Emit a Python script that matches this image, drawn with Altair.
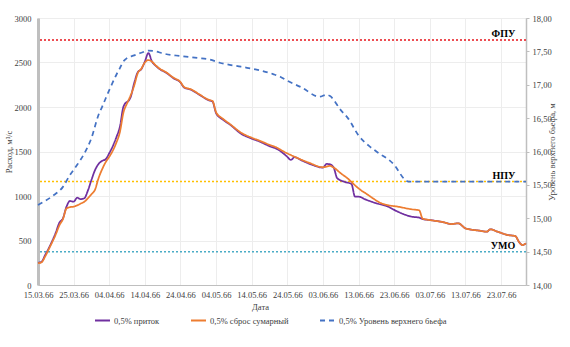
import altair as alt
import pandas as pd

START = "1966-03-15"

# 0,5% приток (day offset from 15.03.66, m3/s)
inflow_day = [0, 1, 2, 3, 5, 6, 7, 8, 9, 10, 11, 12, 13, 14, 15, 16, 17, 18, 19, 20, 21, 22, 23, 24,
              26, 27, 28, 29, 30, 31, 32, 33, 34, 36, 38, 40, 41, 43, 45, 48, 49, 50, 52, 54, 57, 60,
              62, 65, 67, 69, 70, 71, 72, 74, 77, 80, 81, 82, 83, 84, 86, 88, 89, 90, 92, 95, 98, 101,
              105, 107, 108, 110, 114, 116, 118, 120, 124, 126, 127, 129, 132, 134, 135, 136, 137]
inflow_q = [250, 261, 336, 411, 590, 700, 749, 880, 944, 936, 981, 965, 975, 1060, 1180, 1290, 1360,
            1395, 1413, 1480, 1560, 1660, 1780, 2005, 2110, 2268, 2390, 2425, 2510, 2606, 2511, 2465,
            2430, 2385, 2324, 2275, 2220, 2193, 2145, 2075, 2061, 1930, 1855, 1799, 1700, 1645, 1615,
            1560, 1530, 1475, 1440, 1405, 1436, 1400, 1350, 1319, 1360, 1355, 1320, 1200, 1160, 1135,
            992, 992, 960, 918, 885, 824, 767, 757, 741, 730, 704, 685, 693, 637, 610, 599, 626, 599,
            561, 550, 486, 449, 468]

# 0,5% сброс сумарный
release_day = [0, 1, 2, 3, 5, 6, 7, 8, 9, 10, 11, 12, 13, 14, 15, 16, 17, 18, 19, 20, 21, 22, 23, 24,
               25, 26, 27, 28, 29, 30, 31, 32, 33, 34, 36, 38, 40, 41, 43, 45, 48, 49, 50, 52, 54, 57,
               60, 62, 65, 67, 69, 71, 73, 76, 80, 82, 83, 85, 87, 89, 91, 92, 94, 96, 98, 101, 105,
               107, 108, 110, 114, 116, 118, 120, 124, 126, 127, 129, 132, 134, 135, 136, 137]
release_q = [245, 255, 320, 400, 570, 670, 740, 860, 875, 880, 895, 915, 935, 975, 1020, 1070, 1200,
             1300, 1380, 1440, 1510, 1600, 1720, 1940, 2040, 2130, 2240, 2380, 2430, 2500, 2528, 2510,
             2470, 2435, 2390, 2330, 2280, 2225, 2198, 2150, 2080, 2068, 1940, 1865, 1805, 1712, 1655,
             1625, 1575, 1545, 1499, 1460, 1424, 1375, 1323, 1338, 1320, 1255, 1195, 1120, 1055, 1030,
             975, 925, 899, 880, 850, 840, 745, 730, 704, 685, 693, 637, 610, 599, 626, 599, 561, 550,
             486, 449, 468]

# 0,5% Уровень верхнего бьефа (m)
level_day = [0, 4, 7, 9, 11, 13, 15, 17, 18, 20, 22, 23, 24, 25, 27, 29, 31, 33, 35, 40, 45, 48, 51,
             57, 62, 66, 68, 70, 74, 79, 81, 82, 85, 87, 90, 93, 95, 100, 103, 104, 137]
level_m = [15.20, 15.33, 15.47, 15.65, 15.80, 15.97, 16.20, 16.55, 16.67, 16.92, 17.15, 17.25, 17.35,
           17.40, 17.44, 17.48, 17.51, 17.50, 17.47, 17.43, 17.40, 17.38, 17.33, 17.27, 17.22, 17.16,
           17.12, 17.06, 16.96, 16.82, 16.85, 16.83, 16.62, 16.50, 16.24, 16.08, 16.00, 15.80, 15.58,
           15.55, 15.55]

ref_names = ["ФПУ", "НПУ", "УМО"]
ref_levels = [17.67, 15.55, 14.50]
ref_colors = ["#E8141B", "#FFC000", "#4BACC6"]
ref_label_day = 134

series_names = ["0,5% приток", "0,5% сброс сумарный", "0,5% Уровень верхнего бьефа"]
series_colors = ["#7030A0", "#ED7D31", "#4472C4"]
series_dash = [[1, 0], [1, 0], [5, 4]]

tick_days = list(range(0, 131, 10))
domain_days = [0, 137]
q_ticks = [0, 500, 1000, 1500, 2000, 2500, 3000]
level_ticks = [14.0, 14.5, 15.0, 15.5, 16.0, 16.5, 17.0, 17.5, 18.0]

FONT = "'Liberation Serif', 'Times New Roman', 'DejaVu Serif', serif"
TXT = "#404040"
FS = 8.5


def iso(days):
    return [(pd.Timestamp(START) + pd.Timedelta(days=d)).strftime("%Y-%m-%dT%H:%M:%SZ") for d in days]


def ms(days):
    return [int((pd.Timestamp(START, tz="UTC") + pd.Timedelta(days=d)).value // 10**6) for d in days]


flows_df = pd.concat([
    pd.DataFrame({"date": iso(inflow_day), "q": inflow_q, "series": series_names[0]}),
    pd.DataFrame({"date": iso(release_day), "q": release_q, "series": series_names[1]}),
])
level_df = pd.DataFrame({"date": iso(level_day), "level": level_m, "series": series_names[2]})
ref_df = pd.DataFrame({"name": ref_names, "level": ref_levels, "color": ref_colors,
                       "date": iso([ref_label_day] * 3)})

xscale = alt.Scale(type="utc", domain=ms(domain_days), nice=False)
xaxis = alt.Axis(values=ms(tick_days), format="%d.%m.%y", title="Дата", grid=True,
                 gridColor="#EDEDED", gridWidth=1, domainColor="#BFBFBF", domainWidth=1,
                 tickSize=0, labelPadding=5, labelFont=FONT, labelFontSize=FS, labelColor=TXT,
                 labelOverlap=False, labelFlush=False, titleFont=FONT, titleFontSize=FS,
                 titleFontWeight="normal", titleColor=TXT, titlePadding=4, titleX=222, labelAngle=0)
qscale = alt.Scale(domain=[0, 3000], nice=False, zero=True)
lscale = alt.Scale(domain=[14, 18], nice=False, zero=False)

legend = alt.Legend(title=None, orient="none", legendX=56, legendY=294, direction="horizontal",
                    symbolType="stroke", symbolSize=225, symbolStrokeWidth=2, labelFont=FONT,
                    labelFontSize=FS, labelColor=TXT, columnPadding=27, labelOffset=3, labelLimit=300)
color = alt.Color("series:N", scale=alt.Scale(domain=series_names, range=series_colors), legend=legend)
dash = alt.StrokeDash("series:N", scale=alt.Scale(domain=series_names, range=series_dash), legend=legend)

rules = alt.Chart(ref_df).mark_rule(strokeDash=[2, 2], strokeWidth=1.5).encode(
    y=alt.Y("level:Q", scale=lscale, axis=None),
    stroke=alt.Stroke("color:N", scale=None),
)

flows = alt.Chart(flows_df).mark_line(interpolate="monotone", strokeWidth=1.75).encode(
    x=alt.X("date:T", scale=xscale, axis=xaxis),
    y=alt.Y("q:Q", scale=qscale, axis=alt.Axis(
        orient="left", values=q_ticks, format="d", title="Расход, м³/с", grid=True,
        gridColor="#EDEDED", domainColor="#BFBFBF", domainWidth=3, tickSize=0, labelPadding=7,
        labelFont=FONT, labelFontSize=FS, labelColor=TXT, titleFont=FONT, titleFontSize=FS,
        titleFontWeight="normal", titleColor=TXT, titlePadding=1)),
    color=color,
    strokeDash=dash,
    order=alt.Order("series:N"),
)

level = alt.Chart(level_df).mark_line(interpolate="monotone", strokeWidth=1.75).encode(
    x=alt.X("date:T", scale=xscale, axis=xaxis),
    y=alt.Y("level:Q", scale=lscale, axis=alt.Axis(
        orient="right", values=level_ticks,
        labelExpr="replace(format(datum.value, '.2f'), '.', ',')",
        title="Уровень верхнего бьефа, м", grid=False, domainColor="#BFBFBF", domainWidth=1.5,
        tickSize=3, tickColor="#BFBFBF", labelPadding=3, labelFont=FONT, labelFontSize=FS,
        labelColor=TXT, titleFont=FONT, titleFontSize=FS, titleFontWeight="normal",
        titleColor=TXT, titlePadding=5, titleAngle=270)),
    color=color,
    strokeDash=dash,
)

texts = alt.Chart(ref_df).mark_text(font=FONT, fontSize=10, fontWeight="bold", color="#000000",
                                    align="right", baseline="alphabetic", dy=-3).encode(
    x=alt.X("date:T", scale=xscale, axis=xaxis),
    y=alt.Y("level:Q", scale=lscale, axis=None),
    text="name:N",
)

chart = alt.layer(rules, flows, level, texts).resolve_scale(y="independent").properties(
    width=488, height=267,
    autosize=alt.AutoSizeParams(type="none"),
    padding={"left": 38, "top": 18, "right": 44, "bottom": 62},
    background="white",
).configure_view(stroke="#BFBFBF", strokeWidth=1)

chart.save("out.html", embed_options={"renderer": "svg", "actions": False})
